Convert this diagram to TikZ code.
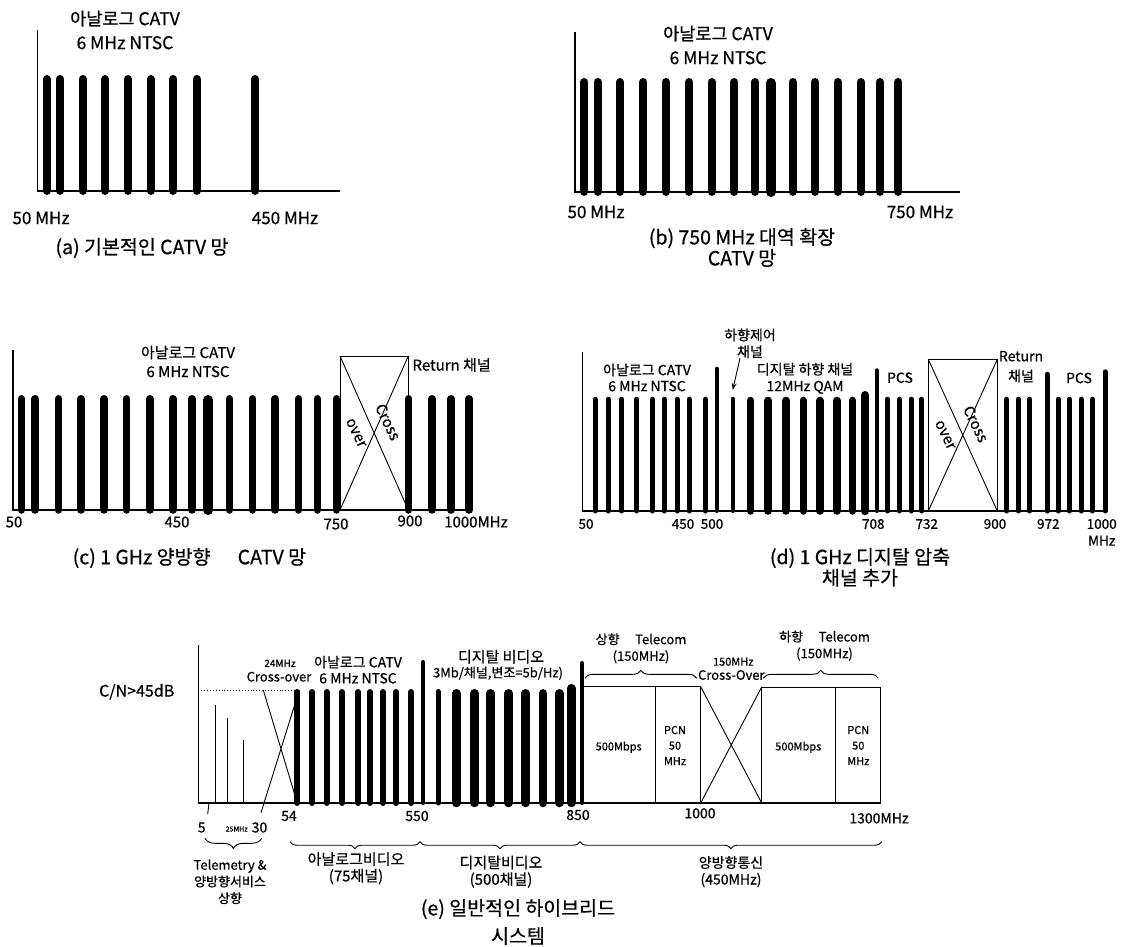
\documentclass[tikz,border=0pt]{standalone}
\usepackage{fontspec}
\setmainfont{Noto Sans CJK KR}[FakeBold=0.6]
\usetikzlibrary{arrows.meta, decorations.pathreplacing}

\begin{document}
\begin{tikzpicture}[x=1pt, y=-1pt, >=Stealth,
    axis/.style={line width=1.2pt},
    chan/.style={line cap=round},
    thinln/.style={line width=0.9pt},
    lbl/.style 2 args={inner sep=0pt, align=center, font=\fontsize{#1}{#2}\selectfont},
    brc/.style={thinln, decorate, decoration={brace, amplitude=#1}}]
  \useasboundingbox (0,0) rectangle (1130,947);

  % (a) basic CATV
  \draw[axis] (37.7,30) -- (37.7,191) -- (340,191);
  \foreach \cx in {46.7,60,82.7,105.3,128,150.7,173.3,196.7,255.3}
    \draw[chan, line width=7.8pt] (\cx,78.9) -- (\cx,191);
  \node[lbl={17.5}{24}] (aTitle) at (125,30) {아날로그 CATV\\6 MHz NTSC};
  \node[lbl={17}{20}] (aLow) at (41,218) {50 MHz};
  \node[lbl={17}{20}] (aHigh) at (285,218) {450 MHz};
  \node[lbl={19.5}{24}] (aCap) at (142,248) {(a) 기본적인 CATV 망};

  % (b) 750 MHz
  \draw[axis] (575,32) -- (575,192) -- (960,192);
  \foreach \cx/\cw in {584.3/7.8, 597.7/7.8, 620/7.8, 643.3/7.8, 666/7.8,
      689.3/7.8, 711.7/7.8, 734.3/7.8, 755/7.8, 771/10, 792.7/7.8, 815/7.8,
      837.7/7.8, 861/7.8, 880/7.8, 898.3/7.8}
    \draw[chan, line width=\cw pt] (\cx,{78+\cw/2}) -- (\cx,192);
  \node[lbl={17.5}{24}] (bTitle) at (718,45) {아날로그 CATV\\6 MHz NTSC};
  \node[lbl={17}{20}] (bLow) at (596,212) {50 MHz};
  \node[lbl={17}{20}] (bHigh) at (920,212) {750 MHz};
  \node[lbl={19.5}{21}] (bCap) at (742,247.5) {(b) 750 MHz 대역 확장\\CATV 망};

  % (c) 1 GHz two-way
  \draw[axis] (13,350) -- (13,510) -- (471.7,510);
  \foreach \cx/\cw in {21.7/7.5, 35.1/7.5, 58.5/7.5, 80.9/7.5, 104/7.5,
      126.7/7.5, 149.8/7.5, 172.9/7.5, 192.1/7.5, 208.3/10, 229.7/7.5,
      252.5/7.5, 275.2/7.5, 298.4/7.5, 317.4/7.5, 336.5/7.5, 408.5/7.5,
      432/7.5, 451/7.5, 469/7.5}
    \draw[chan, line width=\cw pt] (\cx,{395+\cw/2}) -- (\cx,510);
  \draw[thinln] (340,356) rectangle (408.3,510);
  \draw[thinln] (340,356) -- (408.3,510) (340,510) -- (408.3,356);
  \node[lbl={15}{18}, rotate=-64] (cCross) at (388,422) {Cross};
  \node[lbl={15}{18}, rotate=-64] (cOver) at (356,433) {over};
  \node[lbl={15}{19}] (cTitle) at (188,361.5) {아날로그 CATV\\6 MHz NTSC};
  \node[lbl={15}{19}, anchor=west] (cRet) at (412.3,365) {Return 채널};
  \node[lbl={15}{18}] (c50) at (14,522) {50};
  \node[lbl={15}{18}] (c450) at (177,522) {450};
  \node[lbl={15}{18}] (c750) at (336,524) {750};
  \node[lbl={15}{18}] (c900) at (410,521) {900};
  \node[lbl={15}{18}] (c1000) at (476,522) {1000MHz};
  \node[lbl={19.5}{24}] (cCap) at (189.4,558) {(c) 1 GHz 양방향\hspace{1.4em}CATV 망};

  % (d) 1 GHz digital
  \draw[axis] (582.7,352) -- (582.7,511) -- (1105.7,511);
  \foreach \cx/\cy/\cw in {595/396.7/5, 608/396.7/5, 621.5/396.7/5,
      636.8/396.7/5, 652.3/396.7/5, 664/396.7/5, 677/396.7/5, 689/396.7/5,
      705.2/396.7/5, 716.5/366.7/4, 732.5/396.7/4, 750.5/396.7/7.5,
      768/396.7/7.5, 786/396.7/7.5, 803.3/396.7/7.5, 820/396.7/7.5,
      837/396.7/7.5, 852.5/396.7/7.5, 865.2/391/8.5, 876.6/368.3/4,
      887.5/396.7/5, 899.3/396.7/5, 911/396.7/5, 921.6/396.7/5,
      1006.7/396.7/5, 1018.5/396.7/5, 1029.5/396.7/5, 1047/371.7/5,
      1058.3/396.7/5, 1069.3/396.7/5, 1081/396.7/5, 1092.3/396.7/5,
      1105/369.3/5}
    \draw[chan, line width=\cw pt] (\cx,{\cy+\cw/2}) -- (\cx,511);
  \draw[thinln] (928.3,359.3) rectangle (997.3,511);
  \draw[thinln] (928.3,359.3) -- (997.3,511) (928.3,511) -- (997.3,359.3);
  \node[lbl={15}{18}, rotate=-64] (dCross) at (976,424) {Cross};
  \node[lbl={15}{18}, rotate=-64] (dOver) at (945,435) {over};
  \node[lbl={14}{16.7}] (dCtl) at (750,343.3) {하향제어\\채널};
  \coordinate (dCtlBar) at (732.7,390);
  \draw[thinln, -{Stealth[length=7pt, width=5pt]}] ([xshift=-10pt]dCtl.south) -- (dCtlBar);
  \node[lbl={14}{16}] (dAna) at (647,377.5) {아날로그 CATV\\6 MHz NTSC};
  \node[lbl={14}{16.7}] (dDig) at (805,378.3) {디지탈 하향 채널\\12MHz QAM};
  \node[lbl={14}{16}] (dPcsA) at (900,377.7) {PCS};
  \node[lbl={14}{20}] (dRet) at (1021,366.7) {Return\\채널};
  \node[lbl={14}{16}] (dPcsB) at (1079,378) {PCS};
  \node[lbl={13.5}{16}] (d50) at (586,524) {50};
  \node[lbl={13.5}{16}] (d450) at (683,524) {450};
  \node[lbl={13.5}{16}] (d500) at (712,524) {500};
  \node[lbl={13.5}{16}] (d708) at (873.3,524) {708};
  \node[lbl={13.5}{16}] (d732) at (926.7,524) {732};
  \node[lbl={13.5}{16}] (d900) at (995,524) {900};
  \node[lbl={13.5}{16}] (d972) at (1048.3,524) {972};
  \node[lbl={13.5}{16.7}] (d1000) at (1101.7,532.3) {1000\\MHz};
  \node[lbl={19.5}{19.5}] (dCap) at (860,567.3) {(d) 1 GHz 디지탈 압축\\채널 추가};

  % (e) hybrid system
  \draw[axis] (198.3,645) -- (198.3,803) -- (880.7,803);
  \draw[thinln, dotted] (198.3,690) -- (297.3,690);
  \draw[thinln] (215.7,803) -- (215.7,705) (227.3,803) -- (227.3,718.3)
    (243.3,803) -- (243.3,740);
  \draw[thinln] (209,803) -- (207.7,814);
  \draw[thinln] (263.3,690) -- (297.3,803) (261,812.7) -- (299.3,690);
  \foreach \cx/\cy/\cw in {297.3/689/6, 312/689/6, 326.5/689/6, 342/689/6,
      358.3/689/6, 370/689/6, 382.8/689/6, 395.8/689/6, 411.3/689/6,
      423/660/4, 438/689/5, 456.3/689/8.5, 474.3/689/8.5, 490.5/689/8.5,
      508.6/689/8.5, 525.5/689/8.5, 543/689/8.5, 559.3/689/8.5,
      571.3/684/8.5, 582.2/661/4}
    \draw[chan, line width=\cw pt] (\cx,{\cy+\cw/2}) -- (\cx,803);
  \draw[thinln] (583.3,686.7) rectangle (700.7,803) (655,686.7) -- (655,803);
  \draw[thinln] (761.7,687) rectangle (880.7,803) (835.7,687) -- (835.7,803);
  \draw[thinln] (700.7,686.7) -- (761.7,803) (700.7,803) -- (761.7,687);
  \node[lbl={16}{18}] (eCN) at (136.7,691.7) {C/N>45dB};
  \node[lbl={10}{12}] (eXoBw) at (280,663.3) {24MHz};
  \node[lbl={13}{15}] (eXo) at (279,676.7) {Cross-over};
  \node[lbl={14}{16}] (eAna) at (358,669.7) {아날로그 CATV\\6 MHz NTSC};
  \node[lbl={15}{17}] (eDig) at (501,656.7) {디지탈 비디오};
  \node[lbl={13}{15}] (eDigRate) at (498,673.3) {3Mb/채널,변조=5b/Hz)};
  \node[lbl={13}{16.7}] (eUp) at (641,648.3) {상향\hspace{1.2em}Telecom\\(150MHz)};
  \node[lbl={11}{13}] (eXo2Bw) at (733.3,661.7) {150MHz};
  \node[lbl={13}{15}] (eXo2) at (731.3,675) {Cross-Over};
  \node[lbl={13}{16.7}] (eDown) at (824.5,645.7) {하향\hspace{1.2em}Telecom\\(150MHz)};
  \node[lbl={11}{13}] (eRateA) at (618.7,747.3) {500Mbps};
  \node[lbl={11}{15.5}] (ePcnA) at (675,745.5) {PCN\\50\\MHz};
  \node[lbl={11}{13}] (eRateB) at (798.3,747.3) {500Mbps};
  \node[lbl={11}{15.5}] (ePcnB) at (858.3,745.5) {PCN\\50\\MHz};
  \draw[brc=8pt] (585,678.3) -- (696.7,678.3);
  \draw[brc=8pt] (763.3,678.3) -- (878.3,678.3);
  \node[lbl={14}{16}] (e5) at (201.7,827.5) {5};
  \node[lbl={14}{16}] (e30) at (259.5,827.5) {30};
  \node[lbl={7}{8}] (eBw) at (236.7,829) {25MHz};
  \node[lbl={14}{16}] (e54) at (289,816) {54};
  \node[lbl={14}{16}] (e550) at (417,816) {550};
  \node[lbl={14}{16}] (e850) at (578,815) {850};
  \node[lbl={14}{16}] (e1000) at (700,813.3) {1000};
  \node[lbl={14}{16}] (e1300) at (879,818.3) {1300MHz};
  \draw[brc=10pt] (261.7,838.3) -- (205,838.3);
  \draw[brc=7pt] (420,841.7) -- (290,841.7);
  \draw[brc=7pt] (580,841.7) -- (420,841.7);
  \draw[brc=7pt] (881.7,841.7) -- (580,841.7);
  \node[lbl={13}{16.7}] (eTel) at (230,881.7) {Telemetry \&\\양방향서비스\\상향};
  \node[lbl={15}{16.7}] (eAnaV) at (356,868.3) {아날로그비디오\\(75채널)};
  \node[lbl={15}{16.7}] (eDigV) at (501,871.7) {디지탈비디오\\(500채널)};
  \node[lbl={14}{16.7}] (eTwo) at (731,871.7) {양방향통신\\(450MHz)};
  \node[lbl={19.5}{28}] (eCap) at (518,922) {(e) 일반적인 하이브리드\\시스템};
\end{tikzpicture}
\end{document}
